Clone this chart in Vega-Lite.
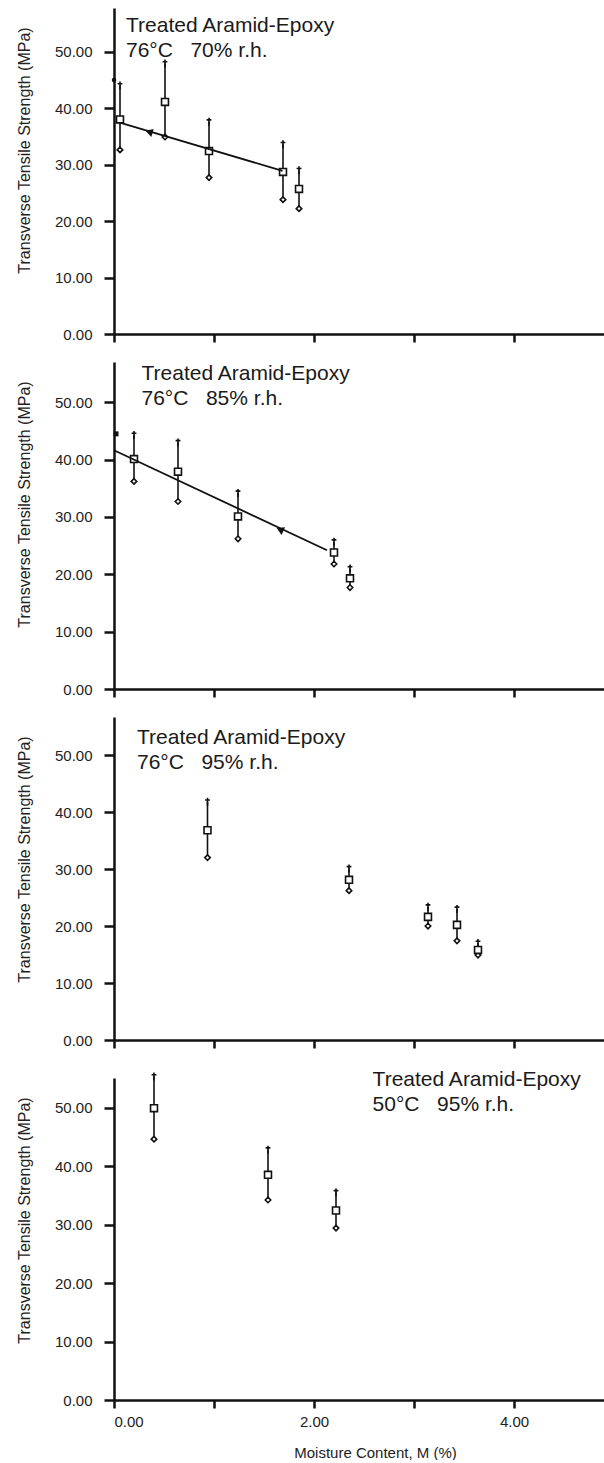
{
  "$schema": "https://vega.github.io/schema/vega-lite/v6.json",
  "background": "white",
  "padding": {"left": 16, "top": 8, "right": 0, "bottom": 0},
  "spacing": 18,
  "config": {
    "view": {"stroke": null},
    "axis": {"domainColor": "#111", "domainWidth": 2.5, "tickColor": "#111", "tickWidth": 2.5, "labelColor": "#222", "titleColor": "#222", "grid": false, "titleFontWeight": "normal", "labelFont": "Liberation Sans", "titleFont": "Liberation Sans"},
    "title": {"font": "Liberation Sans", "fontSize": 21, "fontWeight": "normal", "color": "#1a1a1a", "anchor": "start", "frame": "group", "lineHeight": 25}
  },
  "datasets": {
    "pts": [
      {"panel": "p1", "x": 0.06, "mean": 38.0, "lo": 32.6, "hi": 44.0},
      {"panel": "p1", "x": 0.51, "mean": 41.1, "lo": 34.9, "hi": 47.9},
      {"panel": "p1", "x": 0.95, "mean": 32.4, "lo": 27.7, "hi": 37.6},
      {"panel": "p1", "x": 1.69, "mean": 28.7, "lo": 23.8, "hi": 33.6},
      {"panel": "p1", "x": 1.85, "mean": 25.7, "lo": 22.2, "hi": 29.0},
      {"panel": "p2", "x": 0.2, "mean": 40.1, "lo": 36.2, "hi": 44.3},
      {"panel": "p2", "x": 0.64, "mean": 37.9, "lo": 32.7, "hi": 43.0},
      {"panel": "p2", "x": 1.24, "mean": 30.1, "lo": 26.2, "hi": 34.2},
      {"panel": "p2", "x": 2.2, "mean": 23.8, "lo": 21.8, "hi": 25.7},
      {"panel": "p2", "x": 2.36, "mean": 19.3, "lo": 17.7, "hi": 21.0},
      {"panel": "p3", "x": 0.935, "mean": 36.8, "lo": 32.0, "hi": 41.8},
      {"panel": "p3", "x": 2.35, "mean": 28.1, "lo": 26.2, "hi": 30.1},
      {"panel": "p3", "x": 3.14, "mean": 21.6, "lo": 20.0, "hi": 23.4},
      {"panel": "p3", "x": 3.43, "mean": 20.2, "lo": 17.4, "hi": 23.0},
      {"panel": "p3", "x": 3.64, "mean": 15.8, "lo": 14.9, "hi": 17.0},
      {"panel": "p4", "x": 0.4, "mean": 49.9, "lo": 44.6, "hi": 55.3},
      {"panel": "p4", "x": 1.54, "mean": 38.5, "lo": 34.2, "hi": 42.8},
      {"panel": "p4", "x": 2.22, "mean": 32.4, "lo": 29.4, "hi": 35.5}
    ],
    "fit": [
      {"panel": "p1", "x": 0.067, "y": 37.4},
      {"panel": "p1", "x": 1.685, "y": 28.9},
      {"panel": "p2", "x": 0.005, "y": 41.6},
      {"panel": "p2", "x": 2.13, "y": 24.2}
    ],
    "arrow": [
      {"panel": "p1", "x": 0.35, "y": 35.8},
      {"panel": "p2", "x": 1.66, "y": 27.8}
    ],
    "extra": [
      {"panel": "p1", "x": 0.0, "y": 45.0},
      {"panel": "p2", "x": 0.02, "y": 44.5}
    ]
  },
  "vconcat": [
    {
      "width": 490, "height": 326,
      "title": {"text": ["Treated Aramid-Epoxy", "76°C\u00a0\u00a0\u00a070% r.h."], "offset": -52.6, "dx": 12},
      "encoding": {"x": {"field": "x", "type": "quantitative", "scale": {"domain": [0, 4.9], "nice": false, "zero": false}, "axis": {"values": [0, 1, 2, 3, 4], "labels": false, "tickSize": 8, "title": null}}},
      "layer": [
        {"data": {"name": "pts"}, "transform": [{"filter": "datum.panel === 'p1'"}], "mark": {"type": "rule", "color": "#111", "strokeWidth": 1.6},
         "encoding": {"y": {"field": "lo", "type": "quantitative", "scale": {"domain": [0, 57.74], "nice": false}, "axis": {"values": [0, 10, 20, 30, 40, 50], "format": ".2f", "tickSize": 10, "labelPadding": 12, "labelFontSize": 15, "title": "Transverse Tensile Strength (MPa)", "titleFontSize": 16, "titlePadding": 22, "titleY": 142}}, "y2": {"field": "hi"}}},
        {"data": {"name": "pts"}, "transform": [{"filter": "datum.panel === 'p1'"}], "mark": {"type": "point", "shape": "M0,-1V1M-0.6,-0.45H0.6", "size": 64, "filled": false, "stroke": "#111", "strokeWidth": 1.6, "opacity": 1},
         "encoding": {"y": {"field": "hi", "type": "quantitative"}}},
        {"data": {"name": "pts"}, "transform": [{"filter": "datum.panel === 'p1'"}], "mark": {"type": "point", "shape": "diamond", "size": 30, "filled": true, "fill": "white", "stroke": "#111", "strokeWidth": 1.6, "opacity": 1},
         "encoding": {"y": {"field": "lo", "type": "quantitative"}}},
        {"data": {"name": "pts"}, "transform": [{"filter": "datum.panel === 'p1'"}], "mark": {"type": "point", "shape": "square", "size": 48, "filled": true, "fill": "white", "stroke": "#111", "strokeWidth": 1.6, "opacity": 1},
         "encoding": {"y": {"field": "mean", "type": "quantitative"}}},
        {"data": {"name": "fit"}, "transform": [{"filter": "datum.panel === 'p1'"}], "mark": {"type": "line", "color": "#111", "strokeWidth": 1.8},
         "encoding": {"y": {"field": "y", "type": "quantitative"}}},
        {"data": {"name": "arrow"}, "transform": [{"filter": "datum.panel === 'p1'"}], "mark": {"type": "point", "shape": "triangle-left", "size": 70, "filled": true, "color": "#111", "angle": 16.5, "opacity": 1},
         "encoding": {"y": {"field": "y", "type": "quantitative"}}},
        {"data": {"name": "extra"}, "transform": [{"filter": "datum.panel === 'p1'"}], "mark": {"type": "point", "shape": "circle", "size": 20, "filled": true, "color": "#111", "opacity": 1},
         "encoding": {"y": {"field": "y", "type": "quantitative"}}}
      ]
    },
    {
      "width": 490, "height": 327,
      "title": {"text": ["Treated Aramid-Epoxy", "76°C\u00a0\u00a0\u00a085% r.h."], "offset": -46.6, "dx": 27.5},
      "encoding": {"x": {"field": "x", "type": "quantitative", "scale": {"domain": [0, 4.9], "nice": false, "zero": false}, "axis": {"values": [0, 1, 2, 3, 4], "labels": false, "tickSize": 8, "title": null}}},
      "layer": [
        {"data": {"name": "pts"}, "transform": [{"filter": "datum.panel === 'p2'"}], "mark": {"type": "rule", "color": "#111", "strokeWidth": 1.6},
         "encoding": {"y": {"field": "lo", "type": "quantitative", "scale": {"domain": [0, 57.03], "nice": false}, "axis": {"values": [0, 10, 20, 30, 40, 50], "format": ".2f", "tickSize": 10, "labelPadding": 12, "labelFontSize": 15, "title": "Transverse Tensile Strength (MPa)", "titleFontSize": 16, "titlePadding": 22, "titleY": 142}}, "y2": {"field": "hi"}}},
        {"data": {"name": "pts"}, "transform": [{"filter": "datum.panel === 'p2'"}], "mark": {"type": "point", "shape": "M0,-1V1M-0.6,-0.45H0.6", "size": 64, "filled": false, "stroke": "#111", "strokeWidth": 1.6, "opacity": 1},
         "encoding": {"y": {"field": "hi", "type": "quantitative"}}},
        {"data": {"name": "pts"}, "transform": [{"filter": "datum.panel === 'p2'"}], "mark": {"type": "point", "shape": "diamond", "size": 30, "filled": true, "fill": "white", "stroke": "#111", "strokeWidth": 1.6, "opacity": 1},
         "encoding": {"y": {"field": "lo", "type": "quantitative"}}},
        {"data": {"name": "pts"}, "transform": [{"filter": "datum.panel === 'p2'"}], "mark": {"type": "point", "shape": "square", "size": 48, "filled": true, "fill": "white", "stroke": "#111", "strokeWidth": 1.6, "opacity": 1},
         "encoding": {"y": {"field": "mean", "type": "quantitative"}}},
        {"data": {"name": "fit"}, "transform": [{"filter": "datum.panel === 'p2'"}], "mark": {"type": "line", "color": "#111", "strokeWidth": 1.8},
         "encoding": {"y": {"field": "y", "type": "quantitative"}}},
        {"data": {"name": "arrow"}, "transform": [{"filter": "datum.panel === 'p2'"}], "mark": {"type": "point", "shape": "triangle-left", "size": 70, "filled": true, "color": "#111", "angle": 25.2, "opacity": 1},
         "encoding": {"y": {"field": "y", "type": "quantitative"}}},
        {"data": {"name": "extra"}, "transform": [{"filter": "datum.panel === 'p2'"}], "mark": {"type": "point", "shape": "square", "size": 25, "filled": true, "color": "#111", "opacity": 1},
         "encoding": {"y": {"field": "y", "type": "quantitative"}}}
      ]
    },
    {
      "width": 490, "height": 323,
      "title": {"text": ["Treated Aramid-Epoxy", "76°C\u00a0\u00a0\u00a095% r.h."], "offset": -55.6, "dx": 23},
      "encoding": {"x": {"field": "x", "type": "quantitative", "scale": {"domain": [0, 4.9], "nice": false, "zero": false}, "axis": {"values": [0, 1, 2, 3, 4], "labels": false, "tickSize": 8, "title": null}}},
      "layer": [
        {"data": {"name": "pts"}, "transform": [{"filter": "datum.panel === 'p3'"}], "mark": {"type": "rule", "color": "#111", "strokeWidth": 1.6},
         "encoding": {"y": {"field": "lo", "type": "quantitative", "scale": {"domain": [0, 56.67], "nice": false}, "axis": {"values": [0, 10, 20, 30, 40, 50], "format": ".2f", "tickSize": 10, "labelPadding": 12, "labelFontSize": 15, "title": "Transverse Tensile Strength (MPa)", "titleFontSize": 16, "titlePadding": 22, "titleY": 142}}, "y2": {"field": "hi"}}},
        {"data": {"name": "pts"}, "transform": [{"filter": "datum.panel === 'p3'"}], "mark": {"type": "point", "shape": "M0,-1V1M-0.6,-0.45H0.6", "size": 64, "filled": false, "stroke": "#111", "strokeWidth": 1.6, "opacity": 1},
         "encoding": {"y": {"field": "hi", "type": "quantitative"}}},
        {"data": {"name": "pts"}, "transform": [{"filter": "datum.panel === 'p3'"}], "mark": {"type": "point", "shape": "diamond", "size": 30, "filled": true, "fill": "white", "stroke": "#111", "strokeWidth": 1.6, "opacity": 1},
         "encoding": {"y": {"field": "lo", "type": "quantitative"}}},
        {"data": {"name": "pts"}, "transform": [{"filter": "datum.panel === 'p3'"}], "mark": {"type": "point", "shape": "square", "size": 48, "filled": true, "fill": "white", "stroke": "#111", "strokeWidth": 1.6, "opacity": 1},
         "encoding": {"y": {"field": "mean", "type": "quantitative"}}}
      ]
    },
    {
      "width": 490, "height": 322,
      "title": {"text": ["Treated Aramid-Epoxy", "50°C\u00a0\u00a0\u00a095% r.h."], "offset": -45.6, "dx": 258.6},
      "encoding": {"x": {"field": "x", "type": "quantitative", "scale": {"domain": [0, 4.9], "nice": false, "zero": false}, "axis": {"values": [0, 1, 2, 3, 4], "labelExpr": "datum.value % 2 === 0 ? format(datum.value, '.2f') : ''", "labelFontSize": 15, "labelPadding": 6, "tickSize": 8, "title": "Moisture Content, M (%)", "titleFontSize": 15, "titlePadding": 16, "titleX": 261}}},
      "layer": [
        {"data": {"name": "pts"}, "transform": [{"filter": "datum.panel === 'p4'"}], "mark": {"type": "rule", "color": "#111", "strokeWidth": 1.6},
         "encoding": {"y": {"field": "lo", "type": "quantitative", "scale": {"domain": [0, 55.06], "nice": false}, "axis": {"values": [0, 10, 20, 30, 40, 50], "format": ".2f", "tickSize": 10, "labelPadding": 12, "labelFontSize": 15, "title": "Transverse Tensile Strength (MPa)", "titleFontSize": 16, "titlePadding": 22, "titleY": 142}}, "y2": {"field": "hi"}}},
        {"data": {"name": "pts"}, "transform": [{"filter": "datum.panel === 'p4'"}], "mark": {"type": "point", "shape": "M0,-1V1M-0.6,-0.45H0.6", "size": 64, "filled": false, "stroke": "#111", "strokeWidth": 1.6, "opacity": 1},
         "encoding": {"y": {"field": "hi", "type": "quantitative"}}},
        {"data": {"name": "pts"}, "transform": [{"filter": "datum.panel === 'p4'"}], "mark": {"type": "point", "shape": "diamond", "size": 30, "filled": true, "fill": "white", "stroke": "#111", "strokeWidth": 1.6, "opacity": 1},
         "encoding": {"y": {"field": "lo", "type": "quantitative"}}},
        {"data": {"name": "pts"}, "transform": [{"filter": "datum.panel === 'p4'"}], "mark": {"type": "point", "shape": "square", "size": 48, "filled": true, "fill": "white", "stroke": "#111", "strokeWidth": 1.6, "opacity": 1},
         "encoding": {"y": {"field": "mean", "type": "quantitative"}}}
      ]
    }
  ]
}
